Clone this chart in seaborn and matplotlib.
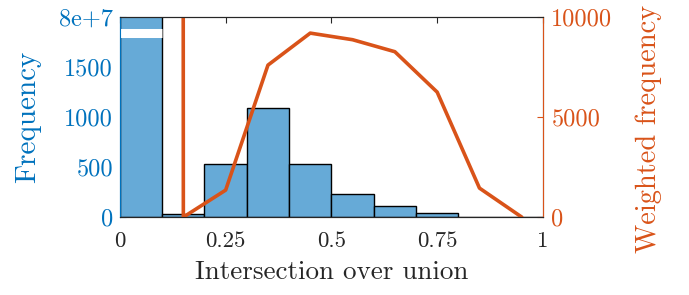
import numpy as np
import pandas as pd
import seaborn as sns
import matplotlib.pyplot as plt

sns.set_style("white")
plt.rcParams['font.family'] = ['serif']
plt.rcParams['font.serif'] = ['cmr10', 'DejaVu Serif']
plt.rcParams['mathtext.fontset'] = 'cm'
plt.rcParams['axes.formatter.use_mathtext'] = True

# histogram bins (IoU) and counts
bin_edges = [0, 0.1, 0.2, 0.3, 0.4, 0.5, 0.6, 0.7, 0.8, 0.9, 1.0]
bin_centers = [0.05, 0.15, 0.25, 0.35, 0.45, 0.55, 0.65, 0.75, 0.85, 0.95]
counts = [8e7, 30, 535, 1090, 530, 233, 112, 45, 6, 2]
# weighted frequency per bin
weighted = [4e6, 0, 1350, 7600, 9200, 8870, 8270, 6250, 1450, 0]

x_ticks = [0, 0.25, 0.5, 0.75, 1]
x_ticklabels = ["0", "0.25", "0.5", "0.75", "1"]
left_ticks = [0, 500, 1000, 1500, 2000]
left_ticklabels = ["0", "500", "1000", "1500", "8e+7"]
right_ticks = [0, 5000, 10000]

blue = "#0072BD"
orange = "#D95319"
bar_col = "#66AAD7"

df = pd.DataFrame({"iou": bin_centers, "count": counts, "weighted": weighted})

fig, ax = plt.subplots(figsize=(6.89, 2.95), dpi=100)
plt.subplots_adjust(left=0.174, right=0.788, top=0.942, bottom=0.264)

sns.histplot(data=df, x="iou", weights="count", bins=bin_edges, ax=ax,
             color=bar_col, alpha=1, edgecolor="black", linewidth=1.0)
ax.set_xlim(0, 1)
ax.set_ylim(0, 2000)
# axis break on the first (huge) bar
ax.plot([0, 0.1], [1840, 1840], color="white", lw=6.5, solid_capstyle="butt",
        clip_on=False, zorder=5)

ax2 = ax.twinx()
sns.lineplot(data=df, x="iou", y="weighted", ax=ax2, color=orange, lw=2.6)
ax2.set_ylim(0, 10000)

ax.set_xticks(x_ticks)
ax.set_xticklabels(x_ticklabels)
ax.set_yticks(left_ticks)
ax.set_yticklabels(left_ticklabels)
ax2.set_yticks(right_ticks)
ax2.set_yticklabels([str(t) for t in right_ticks])

ax.set_xlabel("Intersection over union", fontsize=19.5, color="#262626",
              labelpad=7)
ax.set_ylabel("Frequency", fontsize=21, color=blue, va="center")
ax.yaxis.set_label_coords(-0.218, 0.5)
ax2.set_ylabel("Weighted frequency", fontsize=20.5, color=orange, va="center")
ax2.yaxis.set_label_coords(1.251, 0.44)

ax.tick_params(axis="x", direction="in", top=True, length=4, labelsize=16.5,
               colors="#262626", pad=10)
ax.tick_params(axis="y", direction="in", length=4, labelsize=17.5,
               colors=blue, pad=5)
ax2.tick_params(axis="y", direction="in", length=4, labelsize=17.5,
                colors=orange, pad=6)

for a in (ax, ax2):
    for s in a.spines.values():
        s.set_visible(True)
        s.set_color("#262626")
        s.set_linewidth(0.8)
ax.spines["left"].set_color(blue)
ax2.spines["left"].set_color(blue)
ax2.spines["right"].set_color(orange)

fig.savefig("out.png", dpi=100)
